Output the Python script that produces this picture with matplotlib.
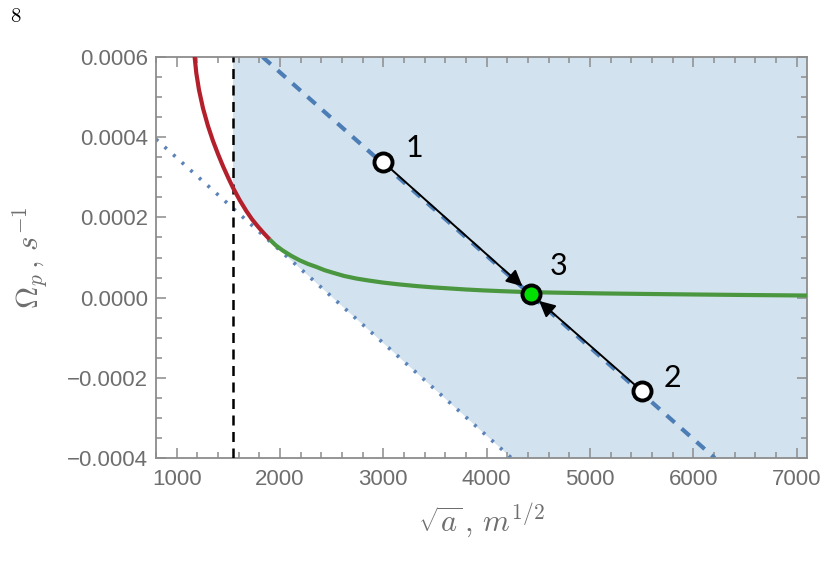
import numpy as np
import matplotlib
matplotlib.use("Agg")
import matplotlib.pyplot as plt
from matplotlib.ticker import MultipleLocator, FuncFormatter

plt.rcParams['mathtext.fontset'] = 'cm'

# values
red_x = [1160, 1174, 1190, 1216, 1255, 1303, 1351, 1400, 1448, 1497, 1545, 1610, 1674, 1730, 1787, 1845, 1900]
red_y = [0.00064, 0.0006, 0.00056, 0.000518, 0.000472, 0.000428, 0.000391, 0.000358, 0.000328,
         0.0003, 0.000274, 0.000243, 0.000216, 0.000195, 0.000177, 0.00016, 0.000145]

green_x = [1900, 1960, 2029, 2110, 2190, 2270, 2352, 2430, 2513, 2620, 2739, 2860, 2996, 3150,
           3319, 3480, 3642, 3800, 3965, 4130, 4287, 4426, 4700, 5094, 5500, 6000, 6500, 7100]
green_y = [0.000145, 0.00013, 0.000117, 0.000104, 0.000093, 0.000084, 0.0000765, 0.0000685,
           0.000062, 0.000054, 0.0000475, 0.0000425, 0.0000375, 0.000033, 0.0000288, 0.0000255,
           0.0000228, 0.0000202, 0.000018, 0.0000162, 0.0000147, 0.0000135, 0.0000122, 0.0000105,
           0.0000092, 0.0000078, 0.0000065, 0.0000052]

dashed_x = [1832, 6207]
dashed_y = [0.0006, -0.0004]

dotted_x = [800, 4240]
dotted_y = [0.000395, -0.0004]

x_vert = 1545

pts_x = [3000, 5500, 4426]
pts_y = [0.0003375, -0.0002325, 0.00001]
pt_labels = ['1', '2', '3']
lab_x = [3303, 5800, 4697]
lab_y = [0.000372, -0.0002, 0.00008]

xlim = (800, 7100)
ylim = (-0.0004, 0.0006)

gray = '#6e6e6e'
frame = '#8c8c8c'

fig = plt.figure(figsize=(8.28, 5.74), dpi=100)
ax = fig.add_axes([156 / 828, 1 - 458 / 574, (807 - 156) / 828, (458 - 57) / 574])

# shaded region: right of the vertical line, above the red curve / dotted line
y_tan = np.interp(red_x[-1], dotted_x, dotted_y)
red_part = [(x, y) for x, y in zip(red_x, red_y) if x >= x_vert]
poly = [(x_vert, ylim[1]), (xlim[1], ylim[1]), (xlim[1], ylim[0]),
        (dotted_x[1], dotted_y[1]), (red_x[-1], y_tan)] + red_part[::-1]
ax.fill([p[0] for p in poly], [p[1] for p in poly], color='#d2e3ef', lw=0, zorder=0)

ax.plot(dotted_x, dotted_y, color='#5b83b8', lw=2.6, ls=(0, (0.8, 2.4)), zorder=2)
ax.plot(dashed_x, dashed_y, color='#4d7db5', lw=3, ls=(0, (2.6, 2.2)), zorder=2)
ax.axvline(x_vert, color='black', lw=1.8, ls=(0, (4, 2.6)), zorder=3)
ax.plot(red_x, red_y, color='#b41f2c', lw=3, zorder=4, solid_capstyle='butt')
ax.plot(green_x, green_y, color='#4a973f', lw=3, zorder=4, solid_capstyle='butt')

# arrows towards point 3
for i in (0, 1):
    ax.annotate('', xy=(pts_x[2], pts_y[2]), xytext=(pts_x[i], pts_y[i]),
                arrowprops=dict(arrowstyle='-|>', color='black', lw=1.4,
                                mutation_scale=24, shrinkA=7, shrinkB=8),
                zorder=5)

ax.plot(pts_x[:2], pts_y[:2], 'o', ms=13, mfc='white', mec='black', mew=2.8, zorder=6)
ax.plot(pts_x[2:], pts_y[2:], 'o', ms=13, mfc='#00e000', mec='black', mew=2.8, zorder=6)
for t, x, y in zip(pt_labels, lab_x, lab_y):
    ax.text(x, y, t, fontsize=22, family='Lato', color='black', ha='center', va='center', zorder=7)

ax.set_xlim(*xlim)
ax.set_ylim(*ylim)
ax.xaxis.set_major_locator(MultipleLocator(1000))
ax.xaxis.set_minor_locator(MultipleLocator(200))
ax.yaxis.set_major_locator(MultipleLocator(0.0002))
ax.yaxis.set_minor_locator(MultipleLocator(0.00005))


def yfmt(v, pos):
    s = f'{v:.4f}'
    if s == '-0.0000':
        s = '0.0000'
    return s.replace('-', '\u2212')


ax.yaxis.set_major_formatter(FuncFormatter(yfmt))
ax.xaxis.set_major_formatter(FuncFormatter(lambda v, p: f'{v:.0f}'))

for sp in ax.spines.values():
    sp.set_color(frame)
    sp.set_linewidth(1.3)
ax.tick_params(which='both', direction='in', top=True, right=True, color=frame, width=1.1)
ax.tick_params(which='major', length=7)
ax.tick_params(which='minor', length=4)
ax.tick_params(axis='both', labelsize=16, labelcolor=gray)
ax.tick_params(axis='x', pad=8)
ax.tick_params(axis='y', pad=6)
for lbl in ax.get_xticklabels() + ax.get_yticklabels():
    lbl.set_family('Liberation Sans')

ax.set_xlabel(r'$\sqrt{a}\,,\, m^{1/2}$', fontsize=22, color=gray, labelpad=8)
ax.set_ylabel(r'$\Omega_p\,,\, s^{-1}$', fontsize=22, color=gray, labelpad=12)

fig.text(10 / 828, 1 - 16 / 574, r'$8$', fontsize=15, color='black', ha='left', va='center')

fig.savefig('out.png', dpi=100)
